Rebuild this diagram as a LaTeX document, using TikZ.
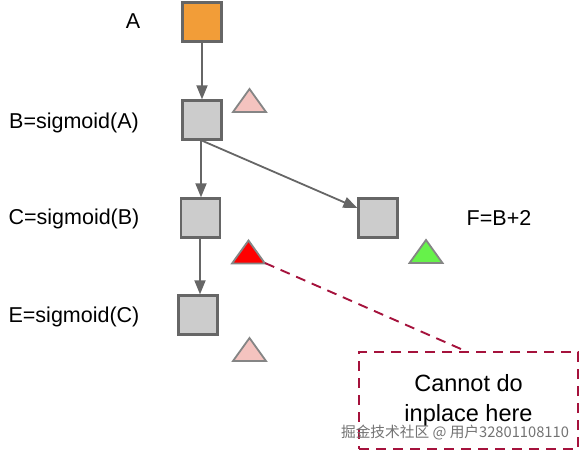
\documentclass[tikz,border=0pt]{standalone}
\usepackage{fontspec}
\setmainfont{Liberation Sans}
\newfontfamily\cjk{Noto Sans CJK SC}
\usetikzlibrary{arrows.meta,calc}
\definecolor{boxgray}{HTML}{CCCCCC}
\definecolor{edgegray}{HTML}{666666}
\definecolor{orangebox}{HTML}{F29D38}
\definecolor{pinktri}{HTML}{F4C3BF}
\definecolor{tribord}{HTML}{858585}
\definecolor{redtri}{HTML}{FF0000}
\definecolor{greentri}{HTML}{66F24A}
\definecolor{crimson}{HTML}{A5123C}
\newcommand\mytri[3]{\draw[tri,fill=#3] (#1-16.5,#2+11.5) -- (#1,#2-11.5) -- (#1+16.5,#2+11.5) -- cycle;}
\begin{document}
\begin{tikzpicture}[x=1pt,y=-1pt,
  tensor/.style={draw=edgegray,line width=2.3pt,fill=boxgray,minimum size=39pt,inner sep=0pt},
  lbl/.style={font=\fontsize{21.5}{25}\selectfont,inner sep=0pt},
  flow/.style={draw=edgegray,line width=1.8pt,-{Triangle[length=14pt,width=11pt]}},
  tri/.style={draw=tribord,line width=1.8pt,line join=miter},
  note/.style={draw=crimson,line width=2pt,dash pattern=on 10pt off 7pt,minimum width=219pt,minimum height=97pt,align=center,font=\fontsize{23.5}{30}\selectfont},
  link/.style={draw=crimson,line width=1.9pt,dash pattern=on 10pt off 7pt}]
\useasboundingbox (0,0) rectangle (580,452);
% tensors
\node[tensor,fill=orangebox] (A) at (202,22) {};
\node[tensor] (B) at (202,120) {};
\node[tensor] (C) at (200.5,218) {};
\node[tensor] (E) at (198,315) {};
\node[tensor] (F) at (378,218) {};
% labels
\node[lbl] (lA) at (133,21) {A};
\node[lbl] (lB) at (74,123) {B=sigmoid(A)};
\node[lbl] (lC) at (74,219) {C=sigmoid(B)};
\node[lbl] (lE) at (74,317) {E=sigmoid(C)};
\node[lbl] (lF) at (499,218) {F=B+2};
% arrows
\draw[flow] (A) -- (B);
\draw[flow] ([xshift=-1pt]B.south) -- ([xshift=-1pt]B.south |- C.north);
\draw[flow] ([xshift=-0.5pt]C.south) -- ([xshift=-0.5pt]C.south |- E.north);
\draw[flow] (B.south) -- ([yshift=10pt]F.west);
% triangles
\mytri{249.5}{100.5}{pinktri}
\mytri{248.5}{252}{redtri}
\mytri{426}{251.5}{greentri}
\mytri{249.5}{349.5}{pinktri}
\coordinate (redc) at (265,263);
% note
\node[note] (N) at (468.5,400.5) {Cannot do\\inplace here};
\draw[link] (redc) -- ([xshift=-3pt]N.north);
% watermark
\node[font=\cjk\fontsize{14.7}{17}\selectfont,text=black!55,inner sep=0pt] (wm) at (455,433) {掘金技术社区 @ 用户32801108110};
\end{tikzpicture}
\end{document}
